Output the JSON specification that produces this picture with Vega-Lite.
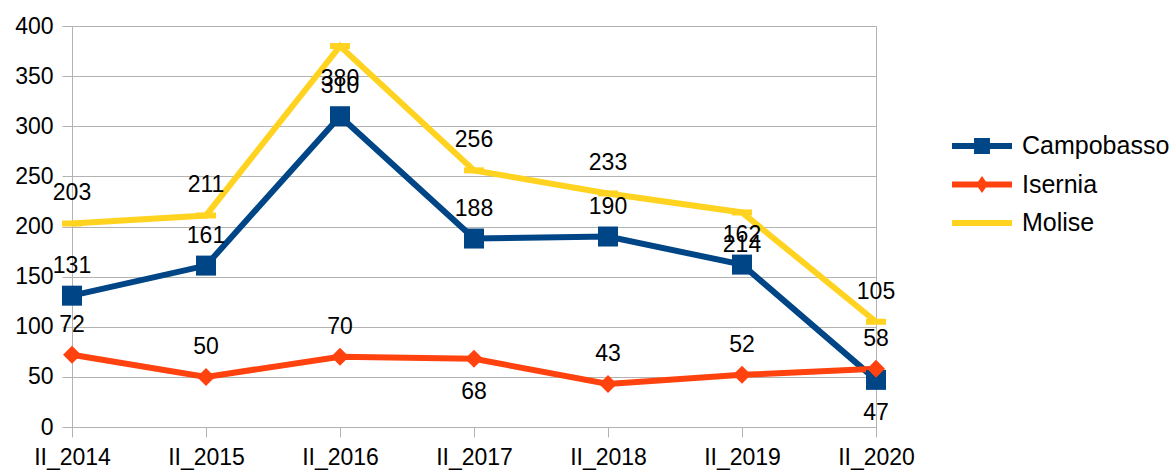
{
  "$schema": "https://vega.github.io/schema/vega-lite/v6.json",
  "width": 804,
  "height": 401,
  "autosize": {"type": "none"},
  "padding": {"left": 72, "top": 26, "right": 298, "bottom": 47},
  "background": "white",
  "config": {"font": "Liberation Sans", "view": {"stroke": "#b3b3b3", "strokeWidth": 1}},
  "data": {
    "values": [
      {"period": "II_2014", "series": "Campobasso", "value": 131},
      {"period": "II_2015", "series": "Campobasso", "value": 161},
      {"period": "II_2016", "series": "Campobasso", "value": 310},
      {"period": "II_2017", "series": "Campobasso", "value": 188},
      {"period": "II_2018", "series": "Campobasso", "value": 190},
      {"period": "II_2019", "series": "Campobasso", "value": 162},
      {"period": "II_2020", "series": "Campobasso", "value": 47},
      {"period": "II_2014", "series": "Isernia", "value": 72},
      {"period": "II_2015", "series": "Isernia", "value": 50},
      {"period": "II_2016", "series": "Isernia", "value": 70},
      {"period": "II_2017", "series": "Isernia", "value": 68},
      {"period": "II_2018", "series": "Isernia", "value": 43},
      {"period": "II_2019", "series": "Isernia", "value": 52},
      {"period": "II_2020", "series": "Isernia", "value": 58},
      {"period": "II_2014", "series": "Molise", "value": 203},
      {"period": "II_2015", "series": "Molise", "value": 211},
      {"period": "II_2016", "series": "Molise", "value": 380},
      {"period": "II_2017", "series": "Molise", "value": 256},
      {"period": "II_2018", "series": "Molise", "value": 233},
      {"period": "II_2019", "series": "Molise", "value": 214},
      {"period": "II_2020", "series": "Molise", "value": 105}
    ]
  },
  "encoding": {
    "x": {
      "field": "period", "type": "ordinal", "sort": null,
      "scale": {"type": "point", "padding": 0},
      "axis": {"title": null, "labelAngle": 0, "labelFontSize": 23, "labelColor": "black", "tickColor": "#b3b3b3", "tickSize": 10, "domainColor": "#b3b3b3", "grid": false, "labelPadding": 9}
    },
    "y": {
      "field": "value", "type": "quantitative",
      "scale": {"domain": [0, 400], "nice": false},
      "axis": {"title": null, "values": [0, 50, 100, 150, 200, 250, 300, 350, 400], "labelFontSize": 23, "labelColor": "black", "tickColor": "#b3b3b3", "tickSize": 10, "gridColor": "#b3b3b3", "domainColor": "#b3b3b3", "labelPadding": 9, "labelFlush": false, "labelOverlap": false}
    },
    "color": {
      "field": "series", "type": "nominal",
      "scale": {"domain": ["Campobasso", "Isernia", "Molise"], "range": ["#004586", "#ff420e", "#ffd320"]},
      "legend": {
        "title": null, "orient": "none", "legendX": 895, "legendY": 105, "padding": 0,
        "labelFontSize": 25, "labelColor": "black", "symbolSize": 900, "labelOffset": 25, "rowPadding": 10.5,
        "encode": {
          "symbols": {
            "update": {
              "shape": {"signal": "datum.value === 'Campobasso' ? 'M-2,-0.2H2V0.2H-2Z M-0.53,-0.53H0.53V0.53H-0.53Z' : datum.value === 'Isernia' ? 'M-2,-0.2H2V0.2H-2Z M0,-0.57L0.4,0L0,0.57L-0.4,0Z' : 'M-2,-0.2H2V0.2H-2Z'"},
              "size": {"value": 900},
              "fill": {"scale": "color", "field": "value"},
              "fillOpacity": {"value": 1},
              "opacity": {"value": 1},
              "strokeWidth": {"value": 0}
            }
          }
        }
      }
    }
  },
  "layer": [
    {"mark": {"type": "line", "strokeWidth": 6}},
    {
      "transform": [{"filter": "datum.series === 'Campobasso'"}],
      "mark": {"type": "point", "filled": true, "opacity": 1, "shape": "square", "size": 400}
    },
    {
      "transform": [{"filter": "datum.series === 'Isernia'"}],
      "mark": {"type": "point", "filled": true, "opacity": 1, "shape": "diamond", "size": 324}
    },
    {
      "transform": [{"filter": "datum.series === 'Molise'"}],
      "mark": {"type": "point", "filled": true, "opacity": 1, "shape": "M-1,-0.3H1V0.3H-1Z", "size": 400}
    },
    {
      "transform": [{"filter": "!((datum.series === 'Campobasso' && datum.period === 'II_2020') || (datum.series === 'Isernia' && datum.period === 'II_2017') || (datum.series === 'Molise' && (datum.period === 'II_2016' || datum.period === 'II_2019')))"}],
      "mark": {"type": "text", "fontSize": 23, "dy": -23, "baseline": "alphabetic", "align": "center"},
      "encoding": {"text": {"field": "value", "type": "quantitative"}, "color": {"value": "black"}}
    },
    {
      "transform": [{"filter": "(datum.series === 'Campobasso' && datum.period === 'II_2020') || (datum.series === 'Isernia' && datum.period === 'II_2017') || (datum.series === 'Molise' && (datum.period === 'II_2016' || datum.period === 'II_2019'))"}],
      "mark": {"type": "text", "fontSize": 23, "dy": 40, "baseline": "alphabetic", "align": "center"},
      "encoding": {"text": {"field": "value", "type": "quantitative"}, "color": {"value": "black"}}
    }
  ]
}
